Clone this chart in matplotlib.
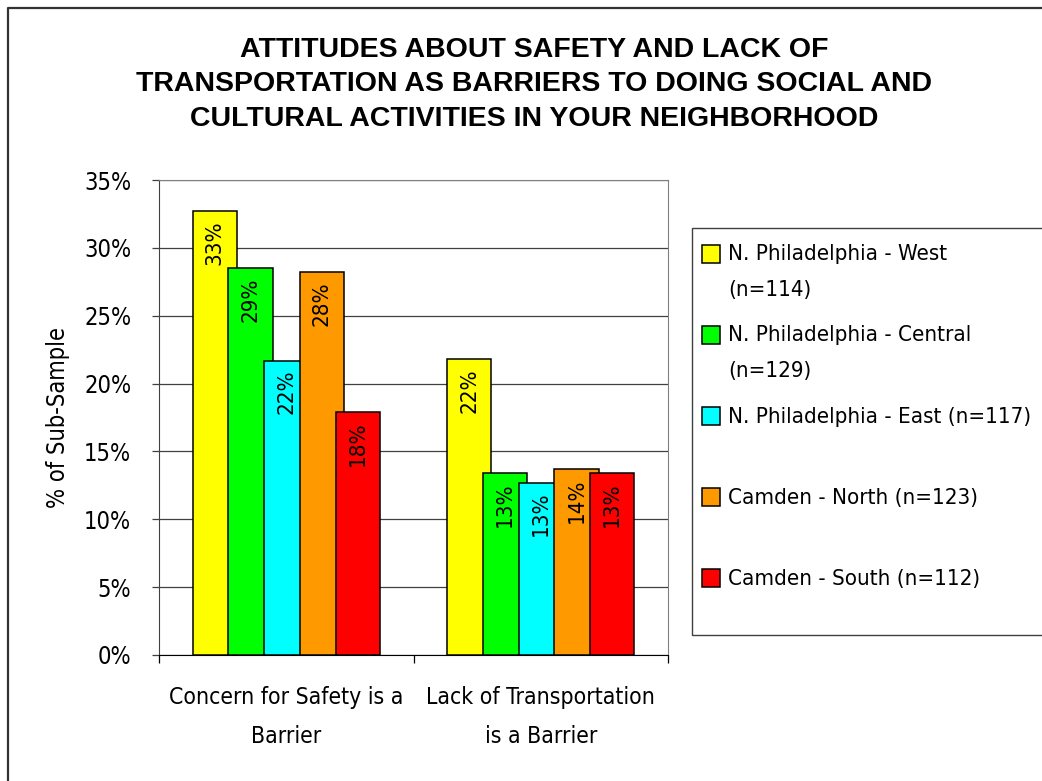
import numpy as np
import matplotlib
matplotlib.use('Agg')
import matplotlib.pyplot as plt
from matplotlib.patches import Rectangle
from matplotlib.lines import Line2D

categories = ['Concern for Safety is a\nBarrier', 'Lack of Transportation\nis a Barrier']
groups = ['N. Philadelphia - West\n(n=114)', 'N. Philadelphia - Central\n(n=129)',
          'N. Philadelphia - East (n=117)', 'Camden - North (n=123)', 'Camden - South (n=112)']
west = [32.7, 21.8]
central = [28.5, 13.4]
east = [21.7, 12.7]
north = [28.2, 13.7]
south = [17.9, 13.4]
colors = ['#FFFF00', '#00FF00', '#00FFFF', '#FF9900', '#FF0000']

# narrow look of the original (Arial Narrow) -> DejaVu Sans Condensed
plt.rcParams['font.family'] = ['DejaVu Sans']
plt.rcParams['font.stretch'] = 'condensed'

W, H = 1042, 781
fig = plt.figure(figsize=(W / 100, H / 100), dpi=100)

def fx(px):
    return px / W

def fy(py):
    return 1 - py / H

ax = fig.add_axes([fx(159), fy(655), fx(668) - fx(159), fy(180) - fy(655)])

x = np.arange(len(categories))
step = 0.1404
width = 0.1745
series = [west, central, east, north, south]
for i, vals in enumerate(series):
    xs = x + (i - 2) * step
    ax.bar(xs, vals, width=width, color=colors[i], edgecolor='black', linewidth=1.1, zorder=3 + i)
    for xx, v in zip(xs, vals):
        ax.annotate(f'{int(v + 0.5)}%', (xx, v), xytext=(0, -6.5), textcoords='offset points',
                    rotation=90, ha='center', va='top', fontsize=16, zorder=10)

ax.set_xlim(-0.5, 1.5)
ax.set_ylim(0, 35)
ax.set_yticks(np.arange(0, 36, 5))
ax.set_yticklabels([f'{t}%' for t in range(0, 36, 5)], fontsize=17)
ax.yaxis.grid(True, color='#404040', linewidth=0.9, zorder=0)
ax.set_axisbelow(True)
ax.tick_params(axis='y', length=5, width=0.9, color='#404040', pad=15)

ax.set_xticks(x)
ax.set_xticklabels(categories, fontsize=16.5, linespacing=1.9)
ax.set_xticks([-0.5, 0.5, 1.5], minor=True)
ax.tick_params(axis='x', which='major', length=0, pad=22)
ax.tick_params(axis='x', which='minor', length=6, width=0.9, direction='out')

ax.spines['left'].set_color('#404040')
ax.spines['top'].set_color('#808080')
ax.spines['right'].set_color('#808080')
ax.spines['bottom'].set_color('black')

ax.set_ylabel('% of Sub-Sample', fontsize=17)
ax.yaxis.set_label_coords((70 - 159) / 509, 0.5)

fig.text(fx(534), fy(37),
         'ATTITUDES ABOUT SAFETY AND LACK OF\nTRANSPORTATION AS BARRIERS TO DOING SOCIAL AND\nCULTURAL ACTIVITIES IN YOUR NEIGHBORHOOD',
         ha='center', va='top', fontsize=20.5, fontweight='bold', family='Liberation Sans',
         stretch='normal', linespacing=1.42)

# legend box drawn by hand so the swatch sits on the first line of wrapped labels
fig.add_artist(Rectangle((fx(691.5), fy(635)), fx(1080) - fx(691.5), fy(228) - fy(635),
                         transform=fig.transFigure, facecolor='white', edgecolor='#404040', linewidth=1))
for i, lab in enumerate(groups):
    cy = 254 + i * 81
    nl = lab.count('\n')
    fig.add_artist(Rectangle((fx(702), fy(cy + 9)), fx(18), 18 / H, transform=fig.transFigure,
                             facecolor=colors[i], edgecolor='black', linewidth=1.1))
    fig.text(fx(728), fy(cy + 7 + 35 * nl), lab, ha='left', va='baseline', fontsize=16, linespacing=2.0)

# outer chart border
fig.add_artist(Line2D([fx(7.5), fx(7.5), fx(1060)], [fy(800), fy(7.5), fy(7.5)],
                      transform=fig.transFigure, color='#333333', linewidth=1.6))

plt.savefig('out.png', dpi=100)
